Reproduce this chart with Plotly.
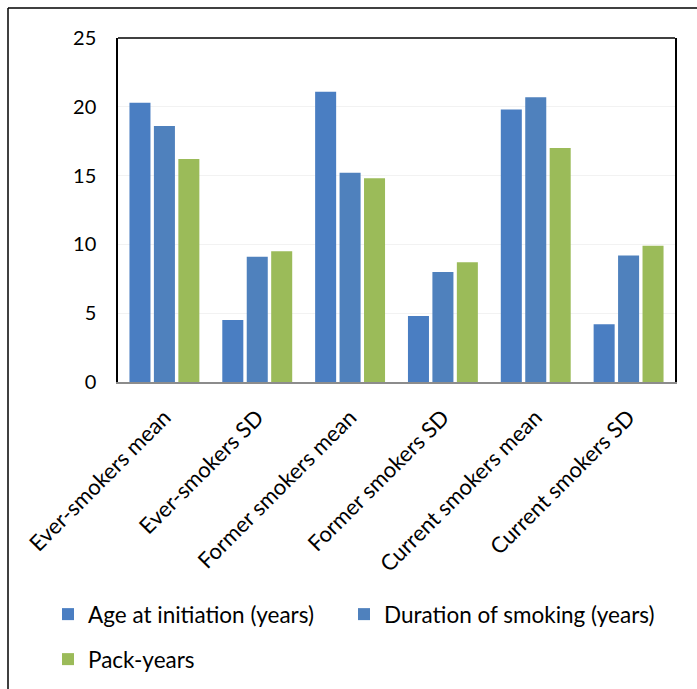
import plotly.graph_objects as go

categories = [
    "Ever-smokers mean",
    "Ever-smokers SD",
    "Former smokers mean",
    "Former smokers SD",
    "Current smokers mean",
    "Current smokers SD",
]
age_at_initiation = [20.3, 4.5, 21.1, 4.8, 19.8, 4.2]
duration_of_smoking = [18.6, 9.1, 15.2, 8.0, 20.7, 9.2]
pack_years = [16.2, 9.5, 14.8, 8.7, 17.0, 9.9]
y_ticks = [0, 5, 10, 15, 20, 25]

series = [
    ("Age at initiation (years)", age_at_initiation, "#4a7ec2", "legend"),
    ("Duration of smoking (years)", duration_of_smoking, "#4f81bd", "legend3"),
    ("Pack-years", pack_years, "#9bbb59", "legend2"),
]

fig = go.Figure()
for name, vals, color, leg in series:
    fig.add_trace(go.Bar(
        x=categories, y=vals, name=name, legend=leg,
        marker=dict(color=color, line=dict(width=0)),
    ))

W, H = 697, 689
L, R, T, B = 118, 22, 38, 307
pw, ph = W - L - R, H - T - B

def px_x(v):
    return (v - L) / pw

def px_y(v):
    return 1 - (v - T) / ph

shapes = [
    # outer frame (left and top edges)
    dict(type="line", xref="paper", yref="paper", x0=px_x(8), x1=px_x(8),
         y0=px_y(8), y1=px_y(700), line=dict(color="black", width=1.5)),
    dict(type="line", xref="paper", yref="paper", x0=px_x(8), x1=px_x(710),
         y0=px_y(8), y1=px_y(8), line=dict(color="black", width=1.5)),
    # top edge of plot area
    dict(type="line", xref="paper", yref="paper", x0=0, x1=1, y0=1, y1=1,
         line=dict(color="black", width=1.5)),
]

legend_font = dict(family="Lato", size=22.5, color="black")

def legend_at(x_px, y_px):
    return dict(
        orientation="h", x=px_x(x_px), y=px_y(y_px),
        xanchor="left", yanchor="top", font=legend_font, itemwidth=30,
    )

fig.update_layout(
    width=W, height=H,
    margin=dict(l=L, r=R, t=T, b=B, autoexpand=False),
    paper_bgcolor="white", plot_bgcolor="white",
    barmode="group", bargap=0.21, bargroupgap=0.14,
    font=dict(family="Lato", size=20, color="black"),
    showlegend=True,
    legend=legend_at(48, 593),
    legend3=legend_at(344, 593),
    legend2=legend_at(48, 638),
    xaxis=dict(
        tickangle=-45, showline=True, linecolor="#8c8c8c", linewidth=2,
        ticks="", tickfont=dict(size=22), showgrid=False, ticklabelstandoff=12,
        automargin=False,
    ),
    yaxis=dict(
        range=[0, 25], tickvals=y_ticks, showline=True, mirror=True,
        linecolor="black", linewidth=1.5, showgrid=True, gridcolor="#f2f2f2",
        zeroline=False, ticks="", tickfont=dict(size=20), ticklabelstandoff=16,
        automargin=False,
    ),
    shapes=shapes,
)

fig.write_html("out.html")
